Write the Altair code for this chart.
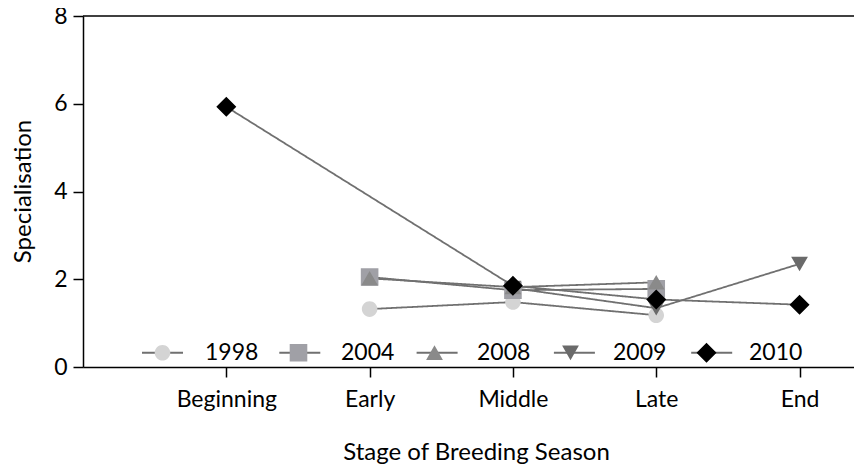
import altair as alt
import pandas as pd

stages = ["Beginning", "Early", "Middle", "Late", "End"]
years = ["1998", "2004", "2008", "2009", "2010"]
v1998 = [None, 1.32, 1.48, 1.18, None]
v2004 = [None, 2.05, 1.75, 1.78, None]
v2008 = [None, 2.02, 1.82, 1.93, None]
v2009 = [None, None, 1.80, 1.34, 2.35]
v2010 = [5.93, None, 1.85, 1.54, 1.42]
series = [v1998, v2004, v2008, v2009, v2010]

colors = ["#d4d4d4", "#a0a0a6", "#8a8a8a", "#6a6a6a", "#000000"]
ext = "M-2.05,0L-2.05,0M2.05,0L2.05,0"
shapes = [
    "M0.78,0A0.78,0.78,0,1,1,-0.78,0A0.78,0.78,0,1,1,0.78,0Z" + ext,
    "M-0.88,-0.88H0.88V0.88H-0.88Z" + ext,
    "M0,-0.74L0.84,0.72L-0.84,0.72Z" + ext,
    "M-0.84,-0.72L0.84,-0.72L0,0.74Z" + ext,
    "M-1,0L0,-1L1,0L0,1Z" + ext,
]
line_symbol = "M-2.05,0H2.05"

rows = []
for y, vals in zip(years, series):
    for i, v in enumerate(vals):
        if v is not None:
            rows.append({"year": y, "series": y, "stage": i + 1, "value": v})
df = pd.DataFrame(rows)

FONT = "Lato"
label_expr = "[" + ",".join("'%s'" % s for s in stages) + "][datum.value - 1]"

x = alt.X(
    "stage:Q",
    scale=alt.Scale(domain=[0, 5.38], nice=False, zero=False),
    axis=alt.Axis(
        values=[1, 2, 3, 4, 5],
        labelExpr=label_expr,
        title="Stage of Breeding Season",
        titleX=393,
        titleY=85,
        titleAlign="center",
        titleBaseline="middle",
        labelPadding=11,
    ),
)
y = alt.Y(
    "value:Q",
    scale=alt.Scale(domain=[0, 8], nice=False),
    axis=alt.Axis(
        values=[0, 2, 4, 6, 8],
        title="Specialisation",
        titleX=-60,
        titleY=175,
        titleAngle=270,
        titleAlign="center",
        titleBaseline="middle",
        labelPadding=6,
    ),
)

common_legend = dict(
    orient="none",
    legendX=68,
    legendY=325,
    direction="horizontal",
    columns=5,
    title=None,
    symbolSize=400,
    labelFontSize=23,
    labelFont=FONT,
    labelOffset=31,
    padding=0,
)

lines = alt.Chart(df).mark_line(color="#707070", strokeWidth=1.8).encode(
    x=x,
    y=y,
    strokeDash=alt.StrokeDash(
        "series:N",
        scale=alt.Scale(range=[[1, 0]] * 5),
        legend=alt.Legend(
            symbolType=line_symbol,
            symbolStrokeColor="#707070",
            symbolStrokeWidth=1.8,
            labelExpr="''",
            columnPadding=70.3,
            **common_legend,
        ),
    ),
)

points = alt.Chart(df).mark_point(filled=True, opacity=1, size=400).encode(
    x=x,
    y=y,
    shape=alt.Shape(
        "year:N",
        scale=alt.Scale(domain=years, range=shapes),
        legend=alt.Legend(labelColor="black", symbolStrokeWidth=0, columnPadding=19, **common_legend),
    ),
    color=alt.Color(
        "year:N",
        scale=alt.Scale(domain=years, range=colors),
        legend=alt.Legend(labelColor="black", symbolStrokeWidth=0, columnPadding=19, **common_legend),
    ),
)

top = alt.Chart(pd.DataFrame({"v": [8]})).mark_rule(
    color="black", strokeWidth=1.5
).encode(y=alt.Y("v:Q"))

chart = (
    alt.layer(top, lines, points)
    .properties(
        width=771,
        height=351,
        padding={"left": 75, "top": 8, "right": 0, "bottom": 100},
        autosize=alt.AutoSizeParams(type="none"),
        background="white",
    )
    .configure_view(stroke=None)
    .configure_axis(
        grid=False,
        domainColor="black",
        domainWidth=1.5,
        tickColor="black",
        tickWidth=1.5,
        tickSize=10,
        labelFont=FONT,
        labelFontSize=23,
        labelColor="black",
        titleFont=FONT,
        titleFontSize=24,
        titleFontWeight="normal",
        titleColor="black",
    )
)

chart.save("out.html", embed_options={"renderer": "svg", "actions": False})
